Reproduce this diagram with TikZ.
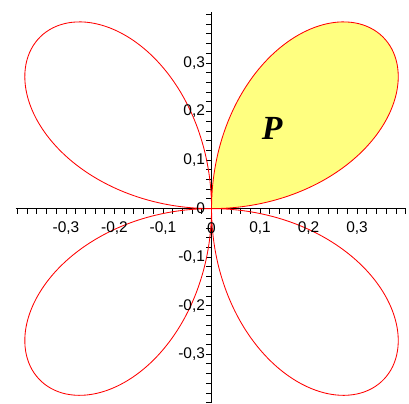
\documentclass[tikz,border=0pt]{standalone}
\usepackage{fontspec}
\setmainfont{Liberation Sans}
\newfontfamily\petalfont{Liberation Serif}
\usepackage{xcolor}
\definecolor{curveR}{HTML}{FF0000}
\definecolor{petalY}{HTML}{FFFF80}

\begin{document}
\begin{tikzpicture}[x=12.125cm,y=12.125cm,
  ticklab/.style={font=\fontsize{11}{13}\selectfont,inner sep=0pt}]
  \useasboundingbox (-0.436,-0.401) rectangle (0.407,0.430);

  \fill[petalY,domain=0:90,samples=120,smooth,variable=\t]
    plot ({0.5*sin(2*\t)*cos(\t)},{0.5*sin(2*\t)*sin(\t)}) -- cycle;

  \coordinate (xa) at (-0.404,0);
  \coordinate (xb) at (0.40,0);
  \coordinate (ya) at (0,-0.40);
  \coordinate (yb) at (0,0.405);
  \draw[line width=0.8pt] (xa) -- (xb);
  \draw[line width=0.8pt] (ya) -- (yb);
  \foreach \k in {-20,...,20} {
    \draw[line width=0.6pt] (\k*0.02,0) -- (\k*0.02,-0.011);
    \draw[line width=0.6pt] (0,\k*0.02) -- (-0.011,\k*0.02);
  }

  \draw[curveR,line width=0.6pt,domain=0:360,samples=400,smooth,variable=\t]
    plot ({0.5*sin(2*\t)*cos(\t)},{0.5*sin(2*\t)*sin(\t)});

  \foreach \v/\s [count=\i] in {-0.3/{-0,3},-0.2/{-0,2},-0.1/{-0,1},0/0,0.1/{0,1},0.2/{0,2},0.3/{0,3}} {
    \node[ticklab] (xl\i) at (\v,-0.040) {\s};
    \node[ticklab,anchor=east] (yl\i) at (-0.013,\v) {\s};
  }

  \node[font=\fontsize{24}{28}\selectfont\petalfont\bfseries\itshape] (P) at (0.125,0.166) {P};
\end{tikzpicture}
\end{document}
